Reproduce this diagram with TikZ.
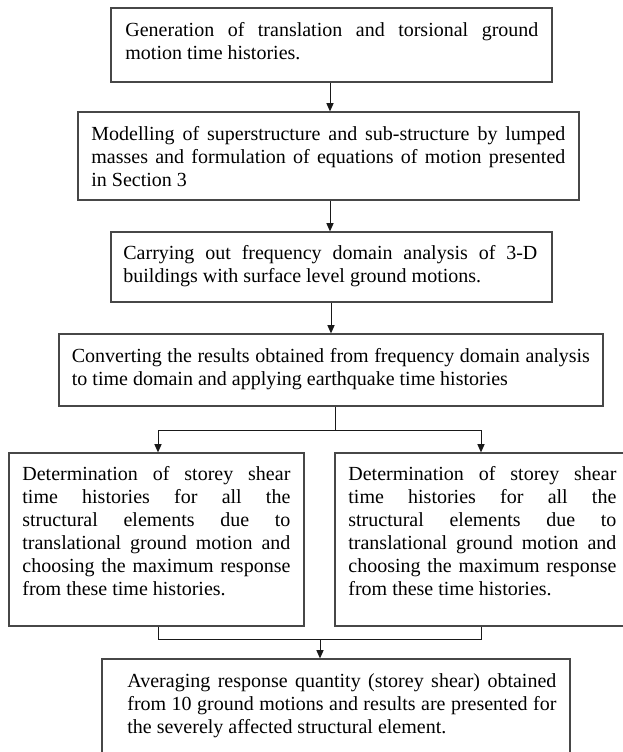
\documentclass[tikz,border=0pt]{standalone}
\usepackage{fontspec}
\setmainfont{Liberation Serif}
\usetikzlibrary{arrows.meta,fit}
\begin{document}
\begin{tikzpicture}[x=0.5pt,y=-0.5pt,
  box/.style={draw=black!72,line width=0.6pt,inner sep=0pt},
  txt/.style={anchor=north west,inner sep=0pt,align=justify,
    font=\fontsize{10}{11.5}\selectfont},
  arr/.style={-{Triangle[length=4.2pt,width=3.6pt]},line width=0.5pt,draw=black!90},
  ln/.style={line width=0.5pt,draw=black!90}]
\useasboundingbox (0,0) rectangle (623,752);
\clip (0,0) rectangle (623,752);
% boxes
\node[box,fit={(111,8) (552,82)}] (b1) {};
\node[box,fit={(78,112) (579,200)}] (b2) {};
\node[box,fit={(111,232) (552,302)}] (b3) {};
\node[box,fit={(59,334) (603,406)}] (b4) {};
\node[box,fit={(9,453) (304,626)}] (b5) {};
\node[box,fit={(335,453) (630,626)}] (b6) {};
\node[box,fit={(102,659) (570,780)}] (b7) {};
% texts
\node[txt,text width=206.5pt] (t1) at (125,20) {\strut Generation of translation and torsional ground\linebreak motion time histories.};
\node[txt,text width=237pt] (t2) at (91,124) {\strut Modelling of superstructure and sub-structure by lumped\linebreak masses and formulation of equations of motion presented\linebreak in Section 3};
\node[txt,text width=207pt] (t3) at (123,243) {\strut Carrying out frequency domain analysis of 3-D\linebreak buildings with surface level ground motions.};
\node[txt,text width=259pt] (t4) at (71.5,346) {\strut Converting the results obtained from frequency domain analysis\linebreak to time domain and applying earthquake time histories};
\node[txt,text width=134pt] (t5) at (22,464) {\strut Determination of storey shear\linebreak time histories for all the\linebreak structural elements due to\linebreak translational ground motion and\linebreak choosing the maximum response\linebreak from these time histories.};
\node[txt,text width=134pt] (t6) at (348,464) {\strut Determination of storey shear\linebreak time histories for all the\linebreak structural elements due to\linebreak translational ground motion and\linebreak choosing the maximum response\linebreak from these time histories.};
\node[txt,text width=214.5pt] (t7) at (127,671) {\strut Averaging response quantity (storey shear) obtained\linebreak from 10 ground motions and results are presented for\linebreak the severely affected structural element.};
% connectors
\coordinate (c1) at (330,0);
\draw[arr] (b1.south -| c1) -- (b2.north -| c1);
\draw[arr] (b2.south -| c1) -- (b3.north -| c1);
\coordinate (c3) at (331,0);
\draw[arr] (b3.south -| c3) -- (b4.north -| c3);
\coordinate (s1) at (335,430);
\coordinate (sl) at (158,430);
\coordinate (sr) at (481,430);
\draw[ln] (b4.south -| s1) -- (s1);
\draw[ln] (sl) -- (sr);
\draw[arr] (sl) -- (sl |- b5.north);
\draw[arr] (sr) -- (sr |- b6.north);
\coordinate (ml) at (158,639);
\coordinate (mr) at (481,639);
\coordinate (m) at (320,639);
\draw[ln] (ml |- b5.south) -- (ml) -- (mr) -- (mr |- b6.south);
\draw[arr] (m) -- (m |- b7.north);
\end{tikzpicture}
\end{document}
